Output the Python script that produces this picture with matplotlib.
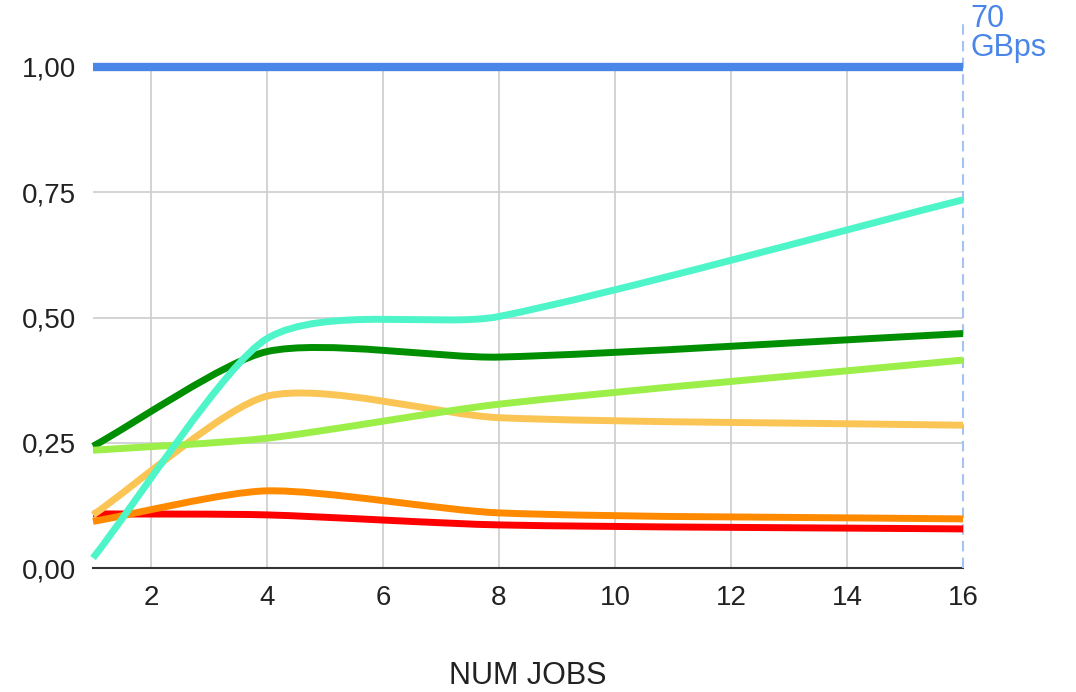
import numpy as np
import matplotlib.pyplot as plt
from matplotlib.path import Path
from matplotlib.patches import PathPatch

plt.rcParams['font.family'] = ['Liberation Sans', 'DejaVu Sans']

# throughput relative to the 70 GBps reference, per number of fio jobs
num_jobs = [1, 4, 8, 16]
reference = [1.00, 1.00, 1.00, 1.00]
red_series = [0.108, 0.106, 0.086, 0.078]
orange_series = [0.093, 0.154, 0.110, 0.098]
dark_green_series = [0.243, 0.432, 0.421, 0.468]
light_green_series = [0.235, 0.259, 0.327, 0.415]
yellow_series = [0.106, 0.343, 0.300, 0.285]
teal_series = [0.020, 0.458, 0.502, 0.735]

x_ticks = [2, 4, 6, 8, 10, 12, 14, 16]
y_ticks = [0.0, 0.25, 0.5, 0.75, 1.0]
y_tick_labels = ["0,00", "0,25", "0,50", "0,75", "1,00"]
ref_label = ["70", "GBps"]

series = [
    (reference, "#4a86e8", 6.0),
    (red_series, "#ff0000", 5.0),
    (orange_series, "#ff8a00", 5.0),
    (dark_green_series, "#008f00", 5.0),
    (yellow_series, "#fbc555", 5.0),
    (light_green_series, "#9bef48", 5.0),
    (teal_series, "#4ef5c8", 5.0),
]


def smooth_path(xs, ys, s=0.24):
    # cubic Bezier through the points; slope at each point taken from its
    # neighbours, handles a fixed fraction of the segment width
    xs = np.asarray(xs, float)
    ys = np.asarray(ys, float)
    n = len(xs)
    slopes = np.empty(n)
    for i in range(n):
        a, b = max(i - 1, 0), min(i + 1, n - 1)
        slopes[i] = (ys[b] - ys[a]) / (xs[b] - xs[a])
    verts = [(xs[0], ys[0])]
    codes = [Path.MOVETO]
    for i in range(n - 1):
        h = (xs[i + 1] - xs[i]) * s
        verts += [(xs[i] + h, ys[i] + h * slopes[i]),
                  (xs[i + 1] - h, ys[i + 1] - h * slopes[i + 1]),
                  (xs[i + 1], ys[i + 1])]
        codes += [Path.CURVE4] * 3
    return Path(verts, codes)


fig = plt.figure(figsize=(10.76, 6.92), dpi=100)
ax = fig.add_axes([93 / 1076, 124 / 692, 870 / 1076, 501 / 692])

for ys, color, lw in series:
    patch = PathPatch(smooth_path(num_jobs, ys), facecolor="none", edgecolor=color,
                      linewidth=lw, capstyle="butt", joinstyle="round", zorder=3,
                      clip_on=False)
    ax.add_patch(patch)

ax.set_xlim(1, 16)
ax.set_ylim(0, 1)

# grid
for xt in x_ticks[:-1]:
    ax.plot([xt, xt], [0, 1], color="#cccccc", linewidth=1.2, zorder=1)
for yt in y_ticks[1:-1]:
    ax.plot([1, 16], [yt, yt], color="#cccccc", linewidth=1.2, zorder=1)
ax.plot([1, 16], [0, 0], color="#333333", linewidth=1.5, zorder=2, clip_on=False)

# dashed marker at the last x value with the reference label
ax.plot([16, 16], [0, 1.094], color="#a4c2f4", linewidth=1.5, linestyle=(0, (5, 3)),
        zorder=2, clip_on=False)
ax.text(16.13, 1.080, ref_label[0], color="#4a86e8", fontsize=22, ha="left",
        va="baseline", clip_on=False)
ax.text(16.13, 1.022, ref_label[1], color="#4a86e8", fontsize=22, ha="left",
        va="baseline", clip_on=False)

for spine in ax.spines.values():
    spine.set_visible(False)
ax.set_xticks(x_ticks)
ax.set_xticklabels([str(v) for v in x_ticks])
ax.set_yticks(y_ticks)
ax.set_yticklabels(y_tick_labels)
ax.tick_params(length=0, labelsize=20, colors="#222222")
ax.tick_params(axis="x", pad=12)
ax.tick_params(axis="y", pad=12)
ax.set_xlabel("NUM JOBS", fontsize=22, color="#222222", labelpad=36)

fig.savefig("out.png", dpi=100, facecolor="white")
